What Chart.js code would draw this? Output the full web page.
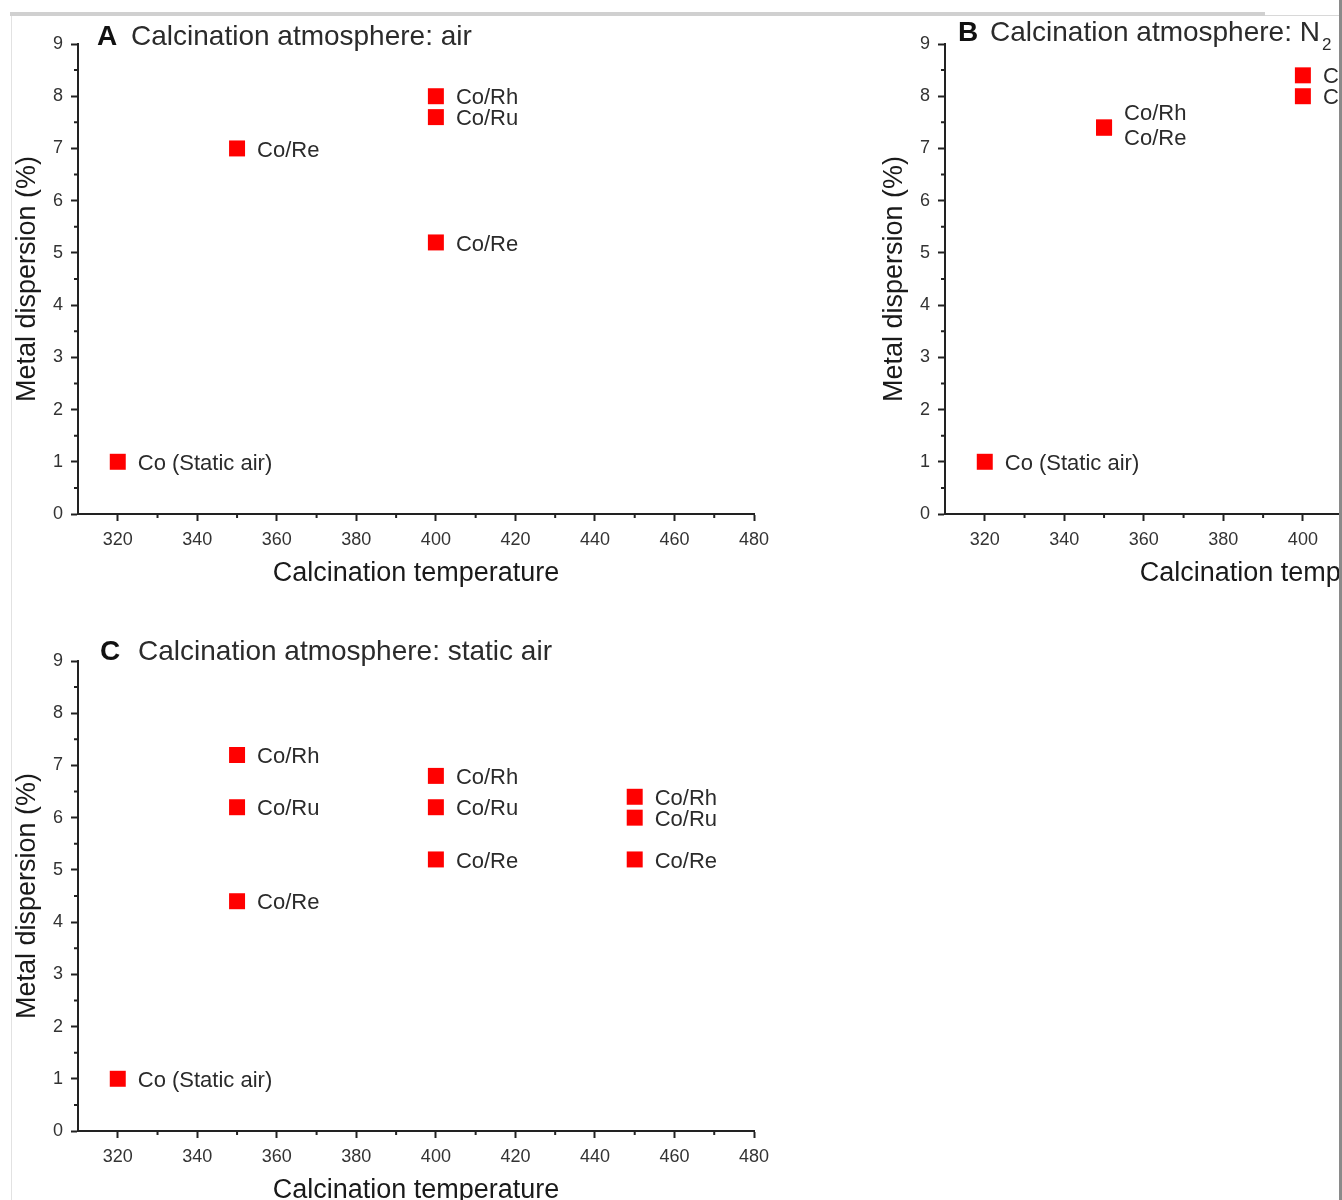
<!DOCTYPE html>
<html lang="en">
<head>
    <meta charset="UTF-8">
    <title>Metal dispersion vs calcination temperature</title>
    <script src="https://cdn.jsdelivr.net/npm/chart.js"></script>
    <style>
        body, html {
            margin: 0;
            padding: 0;
            width: 1342px;
            height: 1200px;
            overflow: hidden;
            background: #fff;
            font-family: "Liberation Sans", Arial, sans-serif;
        }
        #page { position: absolute; left: 0; top: 0; width: 1339px; height: 1200px; overflow: hidden; }
        .panel { position: absolute; width: 860px; height: 600px; }
        .frame-top { position: absolute; left: 10px; top: 12px; width: 1255px; height: 4px; background: #d0d0d0; }
        .frame-top-thin { position: absolute; left: 1265px; top: 15px; width: 75px; height: 1px; background: #d8d8d8; }
        .frame-left { position: absolute; left: 11px; top: 16px; width: 1px; height: 1184px; background: #e2e2e2; }
        .frame-right { position: absolute; left: 1339px; top: 0; width: 3px; height: 1200px; background: #8a8a8a; }
    </style>
</head>
<body>
    <div id="page">
        <div class="panel" style="left:0; top:0;"><canvas id="chartA"></canvas></div>
        <div class="panel" style="left:867px; top:0;"><canvas id="chartB"></canvas></div>
        <div class="panel" style="left:0; top:617px;"><canvas id="chartC"></canvas></div>
    </div>
    <div class="frame-top"></div>
    <div class="frame-top-thin"></div>
    <div class="frame-left"></div>
    <div class="frame-right"></div>

    <script>
        // axis ticks
        const xTicks = [320, 340, 360, 380, 400, 420, 440, 460, 480];
        const xMinor = [330, 350, 370, 390, 410, 430, 450, 470];
        const yTicks = [0, 1, 2, 3, 4, 5, 6, 7, 8, 9];
        const yMinor = [0.5, 1.5, 2.5, 3.5, 4.5, 5.5, 6.5, 7.5, 8.5];

        // A: calcination atmosphere air
        const airTemp = [320, 350, 400, 400, 400];
        const airDispersion = [1.0, 7.0, 8.0, 7.6, 5.2];
        const airLabels = ['Co (Static air)', 'Co/Re', 'Co/Rh', 'Co/Ru', 'Co/Re'];

        // B: calcination atmosphere N2
        const n2Temp = [320, 350, 350, 400, 400];
        const n2Dispersion = [1.0, 7.4, 7.4, 8.4, 8.0];
        const n2Labels = ['Co (Static air)', 'Co/Rh', 'Co/Re', 'Co/Rh', 'Co/Ru'];

        // C: calcination atmosphere static air
        const staticTemp = [320, 350, 350, 350, 400, 400, 400, 450, 450, 450];
        const staticDispersion = [1.0, 7.2, 6.2, 4.4, 6.8, 6.2, 5.2, 6.4, 6.0, 5.2];
        const staticLabels = ['Co (Static air)', 'Co/Rh', 'Co/Ru', 'Co/Re', 'Co/Rh', 'Co/Ru', 'Co/Re', 'Co/Rh', 'Co/Ru', 'Co/Re'];

        const FONT = "'Liberation Sans', Arial, sans-serif";
        const axisColor = '#222';
        const textColor = '#2b2b2b';

        // short outward ticks between the labelled ones
        const minorTicks = {
            id: 'minorTicks',
            afterDraw(chart) {
                const { ctx, chartArea } = chart;
                const xs = chart.scales.x, ys = chart.scales.y;
                ctx.save();
                ctx.strokeStyle = axisColor;
                ctx.lineWidth = 2;
                ctx.beginPath();
                xMinor.forEach(v => {
                    const px = xs.getPixelForValue(v);
                    ctx.moveTo(px, chartArea.bottom);
                    ctx.lineTo(px, chartArea.bottom + 4);
                });
                yMinor.forEach(v => {
                    const py = ys.getPixelForValue(v);
                    ctx.moveTo(chartArea.left, py);
                    ctx.lineTo(chartArea.left - 4, py);
                });
                ctx.stroke();
                ctx.restore();
            }
        };

        // text next to each square; coincident points get stacked labels
        const pointLabels = {
            id: 'pointLabels',
            afterDatasetsDraw(chart) {
                const ctx = chart.ctx;
                const ds = chart.data.datasets[0];
                const meta = chart.getDatasetMeta(0);
                ctx.save();
                ctx.font = '22px ' + FONT;
                ctx.fillStyle = textColor;
                ctx.textAlign = 'left';
                ctx.textBaseline = 'middle';
                meta.data.forEach((pt, i) => {
                    const d = ds.data[i];
                    const group = ds.data.map((e, j) => j).filter(j => ds.data[j].x === d.x && ds.data[j].y === d.y);
                    const k = group.indexOf(i);
                    const dy = (k - (group.length - 1) / 2) * 25 - (group.length > 1 ? 3 : 0);
                    ctx.fillText(ds.pointText[i], pt.x + 20, pt.y + dy + 2);
                });
                ctx.restore();
            }
        };

        // "A Calcination atmosphere: air" style heading
        const panelTitle = {
            id: 'panelTitle',
            afterDraw(chart, args, opts) {
                const ctx = chart.ctx;
                ctx.save();
                ctx.fillStyle = '#111';
                ctx.textBaseline = 'middle';
                ctx.textAlign = 'left';
                ctx.font = 'bold 28px ' + FONT;
                ctx.fillText(opts.letter, opts.letterX, opts.y);
                ctx.fillStyle = textColor;
                ctx.font = '28px ' + FONT;
                ctx.fillText(opts.text, opts.textX, opts.y);
                if (opts.sub) {
                    const w = ctx.measureText(opts.text).width;
                    ctx.font = '17px ' + FONT;
                    ctx.fillText(opts.sub, opts.textX + w + 2, opts.y + 12);
                }
                ctx.restore();
            }
        };

        function makePanel(id, temps, values, labels, title) {
            const points = temps.map((t, i) => ({ x: t, y: values[i] }));
            return new Chart(document.getElementById(id), {
                type: 'scatter',
                data: {
                    datasets: [{
                        data: points,
                        pointText: labels,
                        pointStyle: 'rect',
                        pointRadius: 11.3,
                        pointHoverRadius: 11.3,
                        backgroundColor: '#ff0000',
                        borderWidth: 0
                    }]
                },
                options: {
                    responsive: true,
                    maintainAspectRatio: false,
                    animation: false,
                    events: [],
                    layout: { padding: { top: 44, right: 106, left: 0, bottom: 0 } },
                    scales: {
                        x: {
                            type: 'linear',
                            min: 310,
                            max: 480,
                            afterBuildTicks: s => { s.ticks = xTicks.map(v => ({ value: v })); },
                            afterFit: s => { s.height = 86; },
                            grid: { drawOnChartArea: false, tickLength: 7, tickWidth: 2, tickColor: axisColor },
                            border: { color: axisColor, width: 2 },
                            ticks: { autoSkip: false, maxRotation: 0, padding: 8, color: '#333', font: { size: 18, family: FONT } },
                            title: { display: true, text: 'Calcination temperature', color: '#1a1a1a', font: { size: 27, family: FONT }, padding: { top: 0, bottom: 10 } }
                        },
                        y: {
                            type: 'linear',
                            min: 0,
                            max: 9,
                            afterBuildTicks: s => { s.ticks = yTicks.map(v => ({ value: v })); },
                            afterFit: s => { s.width = 78; },
                            grid: { drawOnChartArea: false, tickLength: 7, tickWidth: 2, tickColor: axisColor },
                            border: { color: axisColor, width: 2 },
                            ticks: { autoSkip: false, padding: 8, color: '#333', font: { size: 18, family: FONT } },
                            title: { display: true, text: 'Metal dispersion (%)', color: '#1a1a1a', font: { size: 27, family: FONT }, padding: { top: 11, bottom: 0 } }
                        }
                    },
                    plugins: {
                        legend: { display: false },
                        tooltip: { enabled: false },
                        panelTitle: title
                    }
                },
                plugins: [minorTicks, pointLabels, panelTitle]
            });
        }

        makePanel('chartA', airTemp, airDispersion, airLabels,
            { letter: 'A', text: 'Calcination atmosphere: air', letterX: 97, textX: 131, y: 37 });
        makePanel('chartB', n2Temp, n2Dispersion, n2Labels,
            { letter: 'B', text: 'Calcination atmosphere: N', sub: '2', letterX: 91, textX: 123, y: 33 });
        makePanel('chartC', staticTemp, staticDispersion, staticLabels,
            { letter: 'C', text: 'Calcination atmosphere: static air', letterX: 100, textX: 138, y: 35 });
    </script>
</body>
</html>
